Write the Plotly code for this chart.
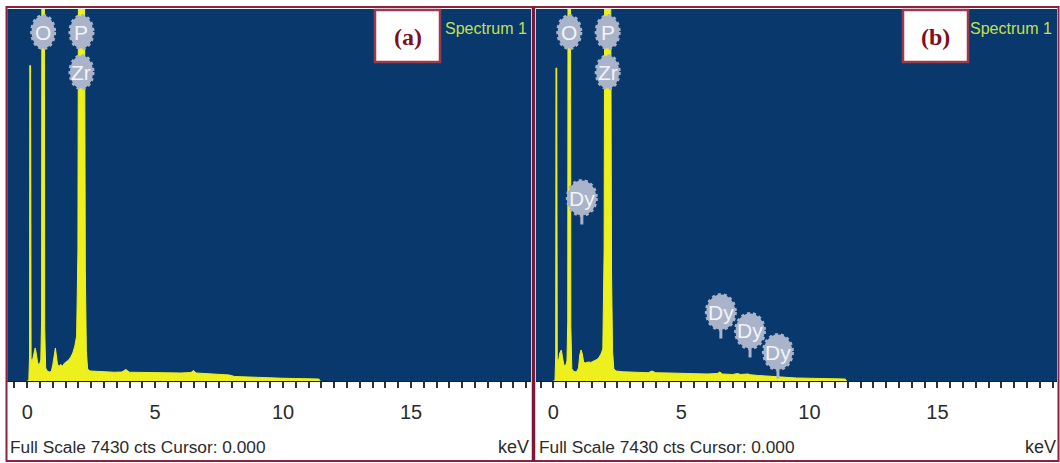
import plotly.graph_objects as go

W, H = 1060, 463

# ---- EDS spectra: energy (keV) and counts ----
energy_a = [-0.02, 0.06, 0.09, 0.10, 0.13, 0.15, 0.19, 0.25, 0.31, 0.35, 0.40, 0.46, 0.53, 0.56,
            0.57, 0.67, 0.68, 0.72, 0.78, 0.86, 0.94, 1.00, 1.05, 1.10, 1.14, 1.18, 1.24, 1.30,
            1.38, 1.46, 1.54, 1.62, 1.70, 1.78, 1.86, 1.93, 1.98, 2.00, 2.24, 2.27, 2.31, 2.36,
            2.45, 2.70, 3.00, 3.40, 3.70, 3.85, 4.00, 4.50, 5.00, 5.50, 6.00, 6.40, 6.50, 6.60,
            7.00, 7.50, 7.90, 8.10, 8.50, 9.00, 9.50, 10.0, 10.5, 11.0, 11.4, 11.45]
counts_a = [0, 0, 500, 6300, 6300, 450, 380, 520, 660, 560, 380, 300, 420, 1200,
            7600, 7600, 1100, 260, 200, 180, 190, 330, 560, 660, 500, 340, 290, 330,
            300, 360, 390, 420, 480, 560, 700, 900, 2600, 7600, 7600, 2200, 600, 240,
            200, 190, 180, 175, 180, 230, 175, 170, 165, 160, 160, 170, 210, 160,
            150, 140, 120, 90, 80, 70, 60, 55, 50, 45, 40, 0]

energy_b = [-0.02, 0.06, 0.09, 0.10, 0.13, 0.15, 0.19, 0.25, 0.31, 0.35, 0.40, 0.46, 0.53, 0.56,
            0.57, 0.67, 0.68, 0.72, 0.80, 0.90, 0.98, 1.03, 1.08, 1.13, 1.18, 1.24, 1.30, 1.38,
            1.46, 1.54, 1.62, 1.70, 1.78, 1.86, 1.93, 1.98, 2.00, 2.24, 2.27, 2.31, 2.36, 2.45,
            2.70, 3.00, 3.40, 3.70, 3.85, 4.00, 4.50, 5.00, 5.50, 6.00, 6.40, 6.50, 6.60, 7.00,
            7.20, 7.30, 7.60, 7.70, 8.00, 8.50, 9.00, 9.50, 10.0, 10.5, 11.0, 11.4, 11.45]
counts_b = [0, 0, 500, 6250, 6250, 450, 380, 560, 620, 500, 340, 280, 400, 1200,
            7600, 7600, 1100, 240, 190, 180, 260, 520, 620, 540, 380, 360, 370, 380,
            370, 390, 400, 430, 470, 540, 640, 2600, 7600, 7600, 2200, 600, 240, 200,
            185, 175, 170, 165, 200, 165, 160, 150, 145, 140, 150, 180, 140, 130,
            150, 130, 140, 125, 110, 90, 70, 60, 55, 50, 45, 40, 0]

full_scale = 7430
tick_values = [0, 5, 10, 15]
tick_labels = ["0", "5", "10", "15"]

# element line markers: label, line energy (keV), balloon height (counts)
marker_labels_a = ["O", "P", "Zr"]
marker_energy_a = [0.62, 2.12, 2.12]
marker_level_a = [6970, 6970, 6170]

marker_labels_b = ["O", "P", "Zr", "Dy", "Dy", "Dy", "Dy"]
marker_energy_b = [0.62, 2.12, 2.12, 1.11, 6.54, 7.68, 8.77]
marker_level_b = [6970, 6970, 6170, 3655, 1378, 999, 579]

panel_tags = ["(a)", "(b)"]
spectrum_title = "Spectrum 1"
footer_text = "Full Scale 7430 cts Cursor: 0.000"
unit_text = "keV"

# ---- styling ----
BG = "#09386d"
YEL = "#eef01e"
BADGE = "#a9b3c9"
FRAME = "#8a2340"
GREEN = "#c4e04c"
INK = "#2b2b2b"
SANS = "Liberation Sans, Arial, sans-serif"


def px(x):
    return x / W


def py(y):
    return 1 - y / H


fig = go.Figure()
fig.add_trace(go.Scatter(x=energy_a, y=counts_a, mode="lines", fill="tozeroy",
                         line=dict(color=YEL, width=1), fillcolor=YEL,
                         xaxis="x", yaxis="y", hoverinfo="skip"))
fig.add_trace(go.Scatter(x=energy_b, y=counts_b, mode="lines", fill="tozeroy",
                         line=dict(color=YEL, width=1), fillcolor=YEL,
                         xaxis="x2", yaxis="y2", hoverinfo="skip"))

xcommon = dict(
    showgrid=False, zeroline=False, showline=True, linecolor="#1c1c28", linewidth=1,
    ticks="outside", ticklen=6, tickwidth=1.5, tickcolor="#333333",
    tickmode="array", tickvals=tick_values, ticktext=tick_labels,
    ticklabelstandoff=7,
    tickfont=dict(family=SANS, size=20, color=INK),
    minor=dict(tickmode="linear", tick0=0, dtick=0.5, ticks="outside", ticklen=6,
               tickwidth=1.5, tickcolor="#333333", showgrid=False),
    fixedrange=True,
)
ycommon = dict(range=[0, full_scale], showgrid=False, zeroline=False, showline=False,
               showticklabels=False, ticks="", domain=[py(381), py(9)], fixedrange=True)

fig.update_layout(
    width=W, height=H,
    margin=dict(l=0, r=0, t=0, b=0, pad=0, autoexpand=False),
    paper_bgcolor="white", plot_bgcolor=BG, showlegend=False,
    xaxis=dict(xcommon, domain=[px(7.3), px(531)], range=[-0.78, 19.69], anchor="y"),
    yaxis=dict(ycommon, anchor="x"),
    xaxis2=dict(xcommon, domain=[px(536), px(1057)], range=[-0.68, 19.67], anchor="y2"),
    yaxis2=dict(ycommon, anchor="x2"),
)

shapes = []
annotations = []

# element balloons
for labels, energies, levels, xr, yr in [
    (marker_labels_a, marker_energy_a, marker_level_a, "x", "y"),
    (marker_labels_b, marker_energy_b, marker_level_b, "x2", "y2"),
]:
    for lab, e, lv in zip(labels, energies, levels):
        hw = 14.5 if lab == "Dy" else 11.5
        hh = 17.5 if lab == "Dy" else 16.5
        if lab == "Dy":
            shapes.append(dict(type="line", xref=xr, yref=yr, x0=e, x1=e,
                               ysizemode="pixel", yanchor=lv, y0=-hh + 2, y1=-hh - 9,
                               line=dict(color=BADGE, width=3), layer="above"))
        shapes.append(dict(type="circle", xref=xr, yref=yr,
                           xsizemode="pixel", ysizemode="pixel",
                           xanchor=e, yanchor=lv, x0=-hw, x1=hw, y0=-hh, y1=hh,
                           fillcolor=BADGE, line=dict(color=BADGE, width=3, dash="dot"),
                           layer="above"))
        annotations.append(dict(xref=xr, yref=yr, x=e, y=lv, text=lab, showarrow=False,
                                font=dict(family=SANS, size=21, color="#f2f4f8"),
                                xanchor="center", yanchor="middle"))

# panel furniture
panels = [
    dict(tag=panel_tags[0], box=(375, 440), spec_x=443, foot_x=8, unit_x=531),
    dict(tag=panel_tags[1], box=(903, 968), spec_x=968, foot_x=537, unit_x=1058),
]
for p in panels:
    bx0, bx1 = p["box"]
    shapes.append(dict(type="rect", xref="paper", yref="paper",
                       x0=px(bx0), x1=px(bx1), y0=py(62), y1=py(10),
                       fillcolor="white", line=dict(color="#9a3a4c", width=2.5), layer="above"))
    annotations.append(dict(xref="paper", yref="paper", x=px((bx0 + bx1) / 2), y=py(37),
                            text="<b>%s</b>" % p["tag"], showarrow=False,
                            font=dict(family="Liberation Serif, DejaVu Serif, serif",
                                      size=24, color="#7d1020"),
                            xanchor="center", yanchor="middle"))
    annotations.append(dict(xref="paper", yref="paper", x=px(p["spec_x"]), y=py(28),
                            text=spectrum_title, showarrow=False,
                            font=dict(family=SANS, size=16, color=GREEN),
                            xanchor="left", yanchor="middle"))
    annotations.append(dict(xref="paper", yref="paper", x=px(p["foot_x"]), y=py(447),
                            text=footer_text, showarrow=False,
                            font=dict(family=SANS, size=17.3, color=INK),
                            xanchor="left", yanchor="middle"))
    annotations.append(dict(xref="paper", yref="paper", x=px(p["unit_x"]), y=py(447),
                            text=unit_text, showarrow=False,
                            font=dict(family=SANS, size=18, color=INK),
                            xanchor="right", yanchor="middle"))

# frames around the two panels
for x0, x1 in [(6.5, 533.5), (533.5, 1058.5)]:
    shapes.append(dict(type="rect", xref="paper", yref="paper",
                       x0=px(x0), x1=px(x1), y0=py(461), y1=py(7),
                       line=dict(color=FRAME, width=2), layer="above"))
shapes.append(dict(type="line", xref="paper", yref="paper",
                   x0=px(533.5), x1=px(533.5), y0=py(462), y1=py(7),
                   line=dict(color="#7a1838", width=3.5), layer="above"))

fig.update_layout(shapes=shapes, annotations=annotations)
fig.write_html("out.html")
